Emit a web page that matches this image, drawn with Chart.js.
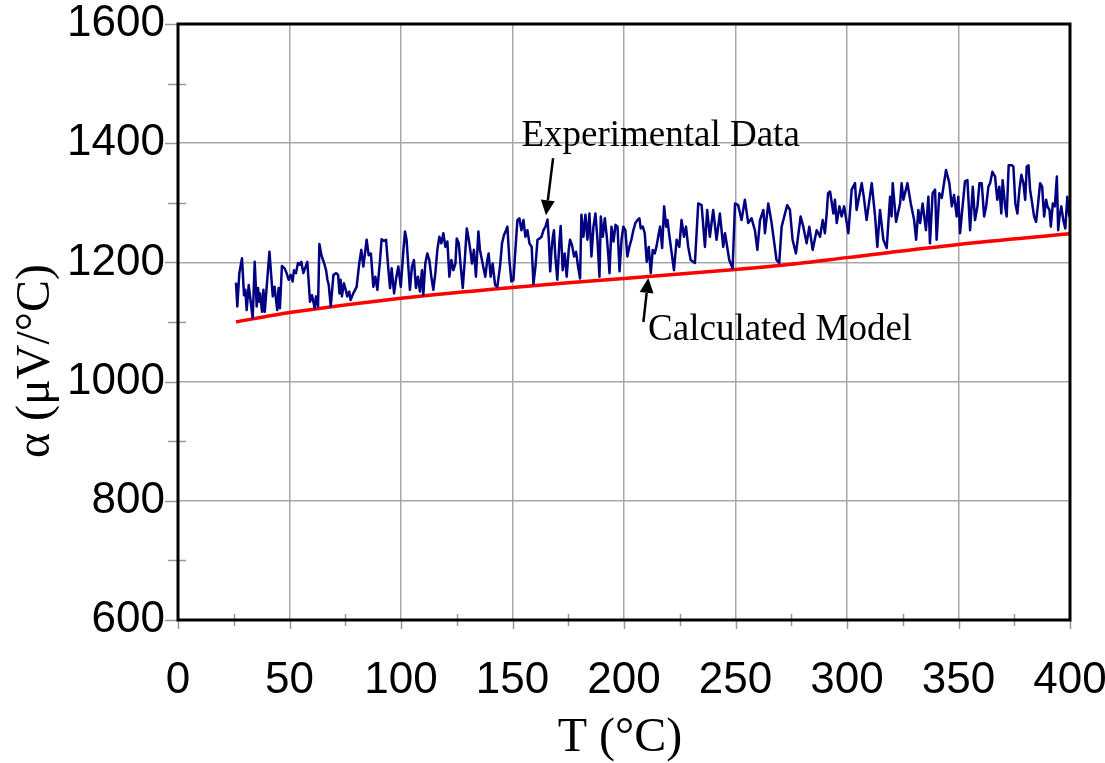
<!DOCTYPE html>
<html>
<head>
<meta charset="utf-8">
<script src="https://cdn.jsdelivr.net/npm/chart.js@4.4.1/dist/chart.umd.min.js"></script>
<style>
  html, body { margin: 0; padding: 0; background: #fff; }
  #wrap { width: 1105px; height: 763px; }
</style>
</head>
<body>
<div id="wrap"><canvas id="chart" width="1105" height="763"></canvas></div>
<script>
const expTemp = [
  26.0, 26.6, 27.5, 28.7, 29.6, 30.2, 30.8, 31.7, 33.5, 34.4,
  35.3, 35.9, 36.5, 36.8, 37.7, 38.3, 38.9, 41.0, 42.5, 43.3,
  44.5, 45.1, 45.7, 46.6, 47.8, 48.7, 49.6, 50.5, 51.4, 52.0,
  52.9, 53.8, 54.7, 55.3, 56.2, 58.0, 59.2, 60.1, 61.3, 61.9,
  62.8, 63.4, 64.3, 65.5, 66.4, 67.0, 67.6, 68.5, 69.7, 70.9,
  71.8, 72.4, 72.9, 73.5, 74.4, 75.0, 75.9, 76.8, 77.4, 78.6,
  80.1, 81.3, 82.2, 83.1, 84.6, 85.5,
  86.5, 87.6, 88.5, 89.4, 90.6, 91.3, 92.4, 93.3, 94.3, 95.1,
  95.8, 96.9, 97.8, 98.8, 99.9, 101.1, 101.8, 102.5, 103.4, 104.0,
  104.9, 105.8, 106.7, 107.6, 108.5, 109.4, 110.0, 110.9, 111.8, 112.7,
  113.6, 114.5, 115.4, 116.3, 117.2, 118.1, 119.0, 119.9, 120.8, 121.7,
  122.6, 123.5, 124.4, 125.0, 125.9, 126.8, 127.7, 128.6, 129.5, 130.4,
  131.3, 131.8, 132.7, 133.6, 134.7, 135.4, 136.3, 137.2, 137.8, 138.7,
  139.3, 140.2, 141.1, 142.2, 143.2, 144.4, 145.3, 146.2, 147.1, 147.7,
  148.6, 149.5, 150.4, 151.3, 152.2, 153.1, 154.0, 154.9, 155.8, 156.7,
  157.6,
  158.6, 159.4, 160.3, 161.2, 162.1, 163.0, 163.9, 164.8, 165.7, 166.3,
  166.9, 167.5, 168.1, 168.6, 169.2, 170.1, 171.0, 171.6, 172.5, 173.4,
  174.3, 175.2, 175.8, 176.7, 177.6, 178.5, 179.4, 180.3, 180.9, 181.8,
  182.7, 183.6, 184.5, 185.4, 186.3, 187.2, 188.1, 189.0, 189.6, 190.5,
  191.4, 192.3, 193.0, 193.5, 194.4, 195.3, 196.2, 197.1, 198.0, 198.9,
  199.7, 200.6, 201.5, 202.4, 203.3, 204.2, 205.1, 206.0, 206.9, 207.5,
  208.4, 209.3, 210.2, 211.1, 212.0, 212.9, 213.8, 214.7, 215.6, 216.2,
  217.1, 218.0, 218.9, 219.5, 220.4,
  222.4, 223.6, 224.8, 225.8, 226.9, 227.8, 228.8, 229.9, 231.8, 233.3,
  234.8, 236.3, 237.3, 238.5, 240.0, 241.5, 243.0, 244.5, 245.3, 247.2,
  248.7, 249.8, 251.2, 252.7, 254.2, 255.7, 257.2, 258.7, 259.8, 261.0,
  262.5, 263.2, 264.7, 266.2, 268.4, 269.6, 270.7, 272.2, 273.2, 274.4,
  275.6, 277.1, 279.2, 280.4, 281.9, 283.1, 284.6, 286.4, 287.9, 289.1,
  290.1, 290.9,
  291.5, 292.4, 293.9, 294.6, 295.4, 296.6, 297.6, 298.7, 299.9, 300.6,
  302.1, 303.6, 304.3, 306.6, 307.6, 308.8, 311.1, 312.6, 313.6, 314.8,
  316.3, 317.8, 319.3, 320.0, 320.5, 322.0, 323.8, 324.5, 325.3, 327.1,
  328.6, 330.1, 331.0, 332.0, 332.8, 333.9, 335.4, 336.5, 337.2, 338.4,
  339.5, 340.2, 341.4, 342.5, 344.4, 345.9, 347.0, 348.0, 349.2, 349.9,
  350.7, 352.9, 354.0, 355.2, 356.4, 357.4, 358.5, 359.4, 360.4, 361.5,
  362.4, 363.4, 364.2, 365.2, 366.4, 367.4, 368.3, 369.2, 369.8, 370.9,
  371.6, 372.5, 373.9, 374.6, 375.5, 376.4, 377.3, 378.2, 379.1, 379.9,
  380.6, 381.4, 382.1, 382.8, 383.9, 384.8, 385.7, 386.6, 387.5, 388.4,
  389.3, 389.9, 390.8, 391.4, 392.3, 393.2, 394.1, 394.7, 395.3, 396.1,
  397.0, 397.9, 398.8, 399.7
];
const expAlpha = [
  1166, 1126, 1182, 1207, 1145, 1154, 1120, 1162, 1106, 1201,
  1126, 1157, 1134, 1148, 1117, 1154, 1117, 1218, 1143, 1159,
  1120, 1157, 1123, 1194, 1190, 1182, 1171, 1179, 1168, 1187,
  1182, 1199, 1196, 1201, 1182, 1201, 1134, 1145, 1123, 1143,
  1126, 1231, 1212, 1199, 1187, 1171, 1162, 1126, 1179, 1182,
  1179, 1148, 1171, 1143, 1165, 1157, 1143, 1151, 1137, 1148,
  1159, 1199, 1221, 1193, 1238, 1212,
  1215, 1159, 1176, 1154, 1204, 1239, 1236, 1238, 1190, 1157,
  1190, 1148, 1173, 1193, 1159, 1221, 1252, 1238, 1187, 1154,
  1193, 1204, 1157, 1176, 1151, 1187, 1145, 1198, 1215, 1204,
  1176, 1154, 1182, 1221, 1243, 1232, 1249, 1226, 1235, 1176,
  1204, 1187, 1198, 1240, 1232, 1193, 1157, 1204, 1257, 1238,
  1215, 1198, 1221, 1176, 1252, 1221, 1204, 1187, 1176, 1204,
  1215, 1176, 1198, 1162, 1159, 1193, 1232, 1246, 1254, 1260,
  1204, 1168, 1170, 1221, 1271, 1274, 1254, 1271, 1243, 1254,
  1232,
  1226, 1164, 1193, 1238, 1240, 1243, 1254, 1260, 1272, 1238,
  1185, 1221, 1243, 1254, 1210, 1171, 1232, 1261, 1187, 1215,
  1176, 1221, 1238, 1229, 1210, 1218, 1193, 1173, 1280, 1243,
  1280, 1238, 1282, 1210, 1260, 1282, 1238, 1176, 1277, 1243,
  1274, 1243, 1210, 1182, 1260, 1235, 1263, 1260, 1185, 1238,
  1260, 1254, 1210, 1226, 1238, 1254, 1266, 1271, 1274, 1257,
  1260, 1249, 1201, 1226, 1182, 1221, 1215, 1229, 1249, 1260,
  1224, 1294, 1260, 1271, 1243,
  1187, 1238, 1226, 1271, 1243, 1260, 1226, 1204, 1199, 1299,
  1296, 1226, 1288, 1243, 1288, 1238, 1282, 1226, 1249, 1204,
  1190, 1299, 1296, 1271, 1305, 1266, 1274, 1254, 1221, 1271,
  1288, 1249, 1299, 1266, 1204, 1199, 1260, 1282, 1296, 1288,
  1238, 1215, 1277, 1260, 1232, 1260, 1221, 1254, 1243, 1271,
  1249, 1282,
  1316, 1319, 1282, 1305, 1266, 1294, 1277, 1294, 1266, 1249,
  1322, 1333, 1288, 1333, 1308, 1271, 1333, 1277, 1226, 1288,
  1238, 1224, 1310, 1277, 1333, 1268, 1299, 1333, 1305, 1333,
  1299, 1271, 1238, 1288, 1266, 1299, 1254, 1310, 1232, 1316,
  1322, 1238, 1316, 1308, 1355, 1333, 1294, 1313, 1277, 1310,
  1249, 1336, 1338, 1254, 1327, 1271, 1294, 1333, 1333, 1277,
  1294, 1327, 1333, 1352, 1344, 1305, 1327, 1282, 1338, 1294,
  1277, 1363, 1363, 1361, 1299, 1282, 1322, 1347, 1333, 1305,
  1361, 1363, 1322, 1305, 1277, 1268, 1299, 1333, 1327, 1277,
  1305, 1294, 1288, 1260, 1299, 1294, 1344, 1254, 1277, 1294,
  1271, 1257, 1310, 1277
];

// Calculated model curve
const modelTemp = [26, 50, 100, 150, 200, 250, 275, 300, 350, 400];
const modelAlpha = [1100, 1116, 1140, 1158, 1173, 1188, 1197, 1208, 1230, 1248];

// labelled ticks
const xLabels = [0, 50, 100, 150, 200, 250, 300, 350, 400];
const yLabels = [600, 800, 1000, 1200, 1400, 1600];

// annotation text / arrows in data units
const notes = [
  { text: 'Experimental Data', x: 154, y: 1395, from: [168.2, 1375], to: [165.0, 1279] },
  { text: 'Calculated Model', x: 210.8, y: 1070, from: [208.7, 1100], to: [210.9, 1174] }
];

const expPoints = expTemp.map((t, i) => ({ x: t, y: expAlpha[i] }));
const modelPoints = modelTemp.map((t, i) => ({ x: t, y: modelAlpha[i] }));

const tickFont = { family: "'Liberation Sans', Arial, sans-serif", size: 44 };
const serif = "'Liberation Serif', 'Times New Roman', serif";
const gridGrey = '#a8a8a8';

const decorPlugin = {
  id: 'decor',
  afterDatasetsDraw(chart) {
    const { ctx, chartArea: a, scales: { x, y } } = chart;
    ctx.save();

    // tick marks crossing the axes
    ctx.strokeStyle = '#999';
    ctx.lineWidth = 1.5;
    y.ticks.forEach(t => {
      const py = Math.round(y.getPixelForValue(t.value)) + 0.5;
      const major = yLabels.includes(t.value);
      ctx.beginPath();
      ctx.moveTo(a.left - (major ? 13 : 10), py);
      ctx.lineTo(a.left + (major ? 0 : 8), py);
      ctx.stroke();
    });
    x.ticks.forEach(t => {
      const px = Math.round(x.getPixelForValue(t.value)) + 0.5;
      const major = xLabels.includes(t.value);
      ctx.beginPath();
      ctx.moveTo(px, a.bottom - (major ? 0 : 6));
      ctx.lineTo(px, a.bottom + (major ? 9 : 6));
      ctx.stroke();
    });

    // black frame
    ctx.strokeStyle = '#000';
    ctx.lineWidth = 3;
    ctx.strokeRect(a.left, a.top, a.right - a.left, a.bottom - a.top);

    // annotations
    ctx.fillStyle = '#000';
    ctx.font = '37px ' + serif;
    ctx.textAlign = 'left';
    ctx.textBaseline = 'alphabetic';
    notes.forEach(n => {
      ctx.fillText(n.text, x.getPixelForValue(n.x), y.getPixelForValue(n.y));
      const x0 = x.getPixelForValue(n.from[0]), y0 = y.getPixelForValue(n.from[1]);
      const x1 = x.getPixelForValue(n.to[0]), y1 = y.getPixelForValue(n.to[1]);
      const ang = Math.atan2(y1 - y0, x1 - x0);
      const len = 15, half = 7;
      const bx = x1 - len * Math.cos(ang), by = y1 - len * Math.sin(ang);
      ctx.strokeStyle = '#000';
      ctx.lineWidth = 2.5;
      ctx.beginPath();
      ctx.moveTo(x0, y0);
      ctx.lineTo(bx, by);
      ctx.stroke();
      ctx.beginPath();
      ctx.moveTo(x1, y1);
      ctx.lineTo(bx + half * Math.sin(ang), by - half * Math.cos(ang));
      ctx.lineTo(bx - half * Math.sin(ang), by + half * Math.cos(ang));
      ctx.closePath();
      ctx.fill();
    });

    // axis titles
    ctx.font = '48px ' + serif;
    ctx.textAlign = 'center';
    ctx.fillText('T (°C)', (a.left + a.right) / 2 - 4, a.bottom + 131);
    ctx.translate(36, (a.top + a.bottom) / 2 + 39);
    ctx.rotate(-Math.PI / 2);
    ctx.textBaseline = 'middle';
    ctx.fillText('α (μV/°C)', 0, 0);
    ctx.restore();
  }
};

new Chart(document.getElementById('chart'), {
  type: 'line',
  data: {
    datasets: [
      {
        label: 'Experimental Data',
        data: expPoints,
        borderColor: '#000080',
        borderWidth: 2.5,
        borderJoinStyle: 'round',
        pointRadius: 0,
        tension: 0,
        fill: false
      },
      {
        label: 'Calculated Model',
        data: modelPoints,
        borderColor: '#ff0000',
        borderWidth: 3.5,
        pointRadius: 0,
        tension: 0.3,
        fill: false
      }
    ]
  },
  options: {
    responsive: false,
    devicePixelRatio: 1,
    animation: false,
    events: [],
    layout: { padding: { top: 24, right: 35, left: 0, bottom: 0 } },
    plugins: {
      legend: { display: false },
      tooltip: { enabled: false }
    },
    scales: {
      x: {
        type: 'linear',
        min: 0,
        max: 400,
        border: { display: false },
        grid: {
          drawTicks: false,
          lineWidth: 1.5,
          color: ctx => xLabels.includes(ctx.tick.value) ? gridGrey : 'rgba(0,0,0,0)'
        },
        ticks: {
          stepSize: 25,
          padding: 34,
          maxRotation: 0,
          autoSkip: false,
          color: '#000',
          font: tickFont,
          callback: v => xLabels.includes(v) ? String(v) : ''
        },
        afterFit: scale => {
          scale.height = 143;
          scale.paddingLeft = 0;
          scale.paddingRight = 0;
        }
      },
      y: {
        type: 'linear',
        min: 600,
        max: 1600,
        border: { display: false },
        grid: {
          drawTicks: false,
          lineWidth: 1.5,
          color: ctx => yLabels.includes(ctx.tick.value) ? gridGrey : 'rgba(0,0,0,0)'
        },
        ticks: {
          stepSize: 100,
          padding: 13,
          autoSkip: false,
          color: '#000',
          font: tickFont,
          callback: v => yLabels.includes(v) ? String(v) : ''
        },
        afterFit: scale => {
          scale.width = 178;
          scale.paddingTop = 0;
          scale.paddingBottom = 0;
        }
      }
    }
  },
  plugins: [decorPlugin]
});
</script>
</body>
</html>
